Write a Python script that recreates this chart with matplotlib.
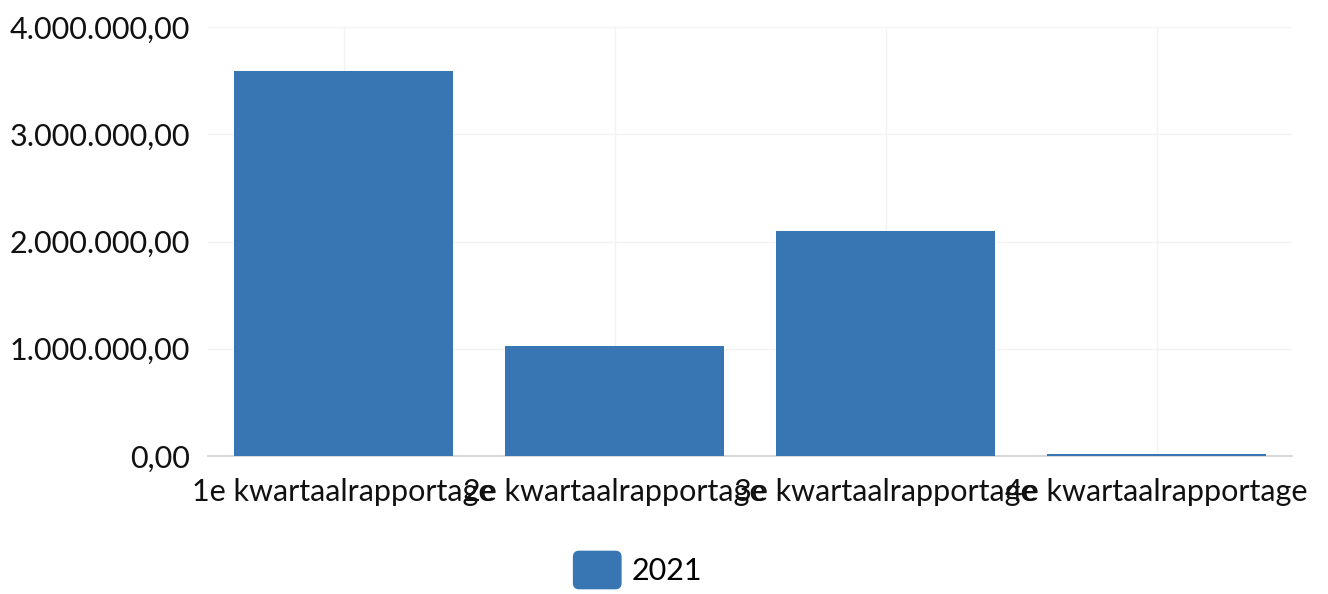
import matplotlib
matplotlib.use("Agg")
import matplotlib.pyplot as plt
import matplotlib.ticker as ticker
import matplotlib.patches as mpatches
from matplotlib.legend_handler import HandlerPatch

plt.rcParams["font.family"] = ["Lato", "DejaVu Sans"]

categories = ["1e kwartaalrapportage", "2e kwartaalrapportage",
              "3e kwartaalrapportage", "4e kwartaalrapportage"]
values_2021 = [3590000, 1025000, 2095000, 14000]
series_label = "2021"
yticks = [0, 1000000, 2000000, 3000000, 4000000]

BAR_COLOR = "#3776b2"
GRID_COLOR = "#f3f3f3"


def nl_format(v, pos=None):
    # Dutch style: 1.000.000,00
    s = f"{v:,.2f}"
    return s.replace(",", "X").replace(".", ",").replace("X", ".")


def rounded_patch(legend, orig_handle, xdescent, ydescent, width, height, fontsize):
    return mpatches.FancyBboxPatch((-xdescent, -ydescent), width, height,
                                   boxstyle="round,pad=0,rounding_size=4")


fig = plt.figure(figsize=(13.28, 5.94), dpi=100)
ax = fig.add_axes([208 / 1328, 1 - 456 / 594, (1292 - 208) / 1328, (456 - 27) / 594])

x = range(len(categories))
ax.bar(x, values_2021, width=0.81, color=BAR_COLOR, zorder=3, label=series_label)

ax.set_xlim(-0.5, len(categories) - 0.5)
ax.set_ylim(0, 4000000)
ax.set_yticks(yticks)
ax.yaxis.set_major_formatter(ticker.FuncFormatter(nl_format))
ax.set_xticks(list(x))
ax.set_xticklabels(categories)

ax.grid(True, color=GRID_COLOR, linewidth=1, zorder=0)
for side in ("top", "right", "left"):
    ax.spines[side].set_visible(False)
ax.spines["bottom"].set_color("#d0d0d0")
ax.spines["bottom"].set_linewidth(1.2)
ax.spines["bottom"].set_zorder(2)
ax.tick_params(axis="both", length=0, labelsize=22, colors="#111111")
ax.tick_params(axis="y", pad=13)
ax.tick_params(axis="x", pad=16)

fig.legend(handles=[mpatches.Patch(color=BAR_COLOR, label=series_label)],
           loc="center", bbox_to_anchor=(638 / 1328, 1 - 570 / 594),
           frameon=False, fontsize=22, handlelength=1.55, handleheight=1.5,
           handletextpad=0.36,
           handler_map={mpatches.Patch: HandlerPatch(patch_func=rounded_patch)})

fig.savefig("out.png", dpi=100, facecolor="white")
